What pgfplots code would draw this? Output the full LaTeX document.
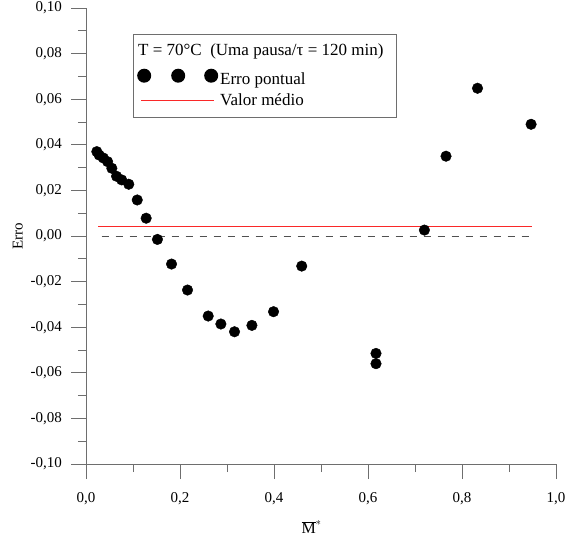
\documentclass[border=0pt]{standalone}
\usepackage{fontspec}
\setmainfont{Liberation Serif}
\usepackage{pgfplots}
\pgfplotsset{compat=1.18}
\definecolor{axgray}{RGB}{110,110,110}
\definecolor{dgray}{RGB}{80,80,80}
\definecolor{myred}{RGB}{250,40,40}
\newcommand{\tfs}{\fontsize{15bp}{17bp}\selectfont}
\newcommand{\lfs}{\fontsize{17bp}{20bp}\selectfont}
\pgfplotsset{
  redlegend/.style={legend image code/.code={\path[draw=none, fill=none] (-3bp,-1bp) rectangle (70bp,1bp); \coordinate (redimg) at (0bp,0bp);}},
  dotlegend/.style={legend image code/.code={\fill[fill=black, draw=none] (0bp,0bp) circle (7bp); \fill[fill=black, draw=none] (34bp,0bp) circle (7bp); \fill[fill=black, draw=none] (67bp,0bp) circle (7bp);}},
}
\begin{document}
\begin{tikzpicture}
\begin{axis}[
  scale only axis,
  width=470bp, height=456bp,
  xmin=0, xmax=1.0, ymin=-0.10, ymax=0.10,
  axis x line*=bottom, axis y line*=left,
  x axis line style={-, draw=axgray, line width=0.9bp},
  y axis line style={-, draw=axgray, line width=0.9bp},
  xtick={0,0.2,0.4,0.6,0.8,1.0},
  ytick={-0.10,-0.08,-0.06,-0.04,-0.02,0,0.02,0.04,0.06,0.08,0.10},
  minor xtick={0.1,0.3,0.5,0.7,0.9},
  minor ytick={-0.09,-0.07,-0.05,-0.03,-0.01,0.01,0.03,0.05,0.07,0.09},
  tick align=outside,
  major tick length=15bp, minor tick length=8bp,
  every tick/.style={draw=axgray, line width=0.9bp},
  /pgf/number format/assume math mode=true,
  /pgf/number format/use comma,
  /pgf/number format/fixed,
  /pgf/number format/fixed zerofill,
  xticklabel style={/pgf/number format/precision=1, font=\tfs, anchor=north, inner sep=0pt, yshift=-13bp},
  yticklabel style={/pgf/number format/precision=2, font=\tfs, anchor=east, inner sep=0pt, xshift=-9bp},
  scaled ticks=false,
  xlabel={$\overline{\mbox{\fontsize{16bp}{18bp}\selectfont M}}^{*}$},
  ylabel={Erro},
  every axis x label/.style={at={(axis description cs:0.48,-0.138)}, anchor=center, font=\tfs},
  every axis y label/.style={at={(axis description cs:-0.145,0.5)}, anchor=center, rotate=90, font=\tfs},
  legend style={name=L, at={(rel axis cs:0.1,0.943)}, anchor=north west, draw=none, font=\lfs, row sep=4bp, inner xsep=4bp, inner ysep=8bp},
  legend cell align=left,
  clip=false,
]
\addlegendimage{empty legend}
\addlegendentry{\hspace*{-82bp}T = 70°C\ \ (Uma pausa/τ = 120 min)\hspace*{7bp}}
\addplot[only marks, mark=*, mark size=5.3bp, black, dotlegend]
  coordinates {
  (0.023,0.0370) (0.028,0.0355) (0.037,0.0342) (0.046,0.0326) (0.055,0.0297)
  (0.065,0.0262) (0.076,0.0246) (0.091,0.0227) (0.109,0.0158) (0.128,0.0078)
  (0.152,-0.0015) (0.182,-0.0123) (0.216,-0.0237) (0.260,-0.0351) (0.287,-0.0386)
  (0.316,-0.0420) (0.353,-0.0392) (0.399,-0.0332) (0.459,-0.0132)
  (0.617,-0.0515) (0.617,-0.0560) (0.720,0.0026) (0.766,0.0350) (0.833,0.0648)
  (0.947,0.0490)
  };
\addlegendentry{\rule{0pt}{19bp}Erro pontual}
\addplot[myred, line width=0.9bp, redlegend]
  coordinates {(0.026,0.0042) (0.948,0.0042)};
\addlegendentry{Valor médio}
\addplot[dgray, line width=0.9bp, dash pattern=on 7bp off 7bp, forget plot]
  coordinates {(0.033,0) (0.948,0)};
\end{axis}
\draw[axgray, line width=0.9bp] (L.south west) rectangle (L.north east);
\draw[myred, line width=0.9bp] ([xshift=-3bp]redimg) -- ([xshift=70bp]redimg);
\pgfresetboundingbox
\useasboundingbox (-86bp,-80bp) rectangle (490bp,464bp);
\end{tikzpicture}
\end{document}
